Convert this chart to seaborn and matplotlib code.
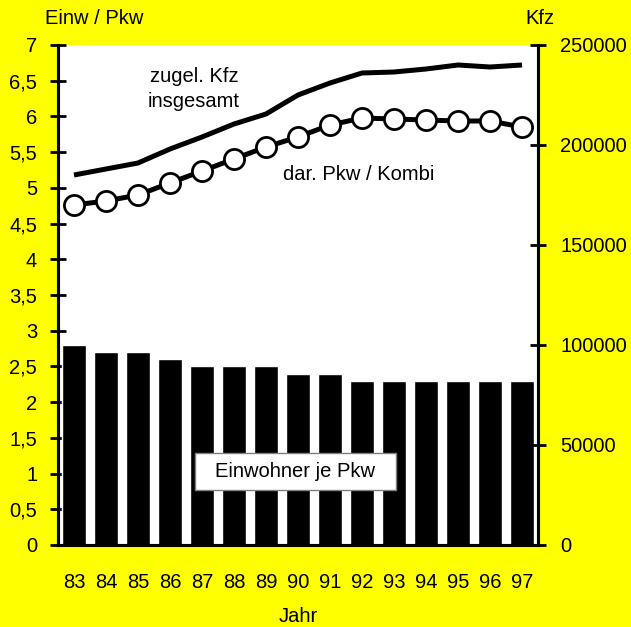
import numpy as np
import pandas as pd
import matplotlib
matplotlib.use("Agg")
import matplotlib.pyplot as plt
from matplotlib.patches import Rectangle
import seaborn as sns

# Data
years = ["83", "84", "85", "86", "87", "88", "89", "90", "91", "92", "93", "94", "95", "96", "97"]
einw_je_pkw = [2.8, 2.7, 2.7, 2.6, 2.5, 2.5, 2.5, 2.4, 2.4, 2.3, 2.3, 2.3, 2.3, 2.3, 2.3]
kfz_gesamt = [185000, 188000, 191000, 198000, 204000, 210500, 215500, 225000, 231000,
              236000, 236500, 238000, 240000, 239000, 240000]
pkw_kombi = [170000, 172000, 175000, 181000, 187000, 193000, 199000, 204000, 210000,
             213500, 213000, 212500, 212000, 212000, 209000]
left_ticks = [0, 0.5, 1, 1.5, 2, 2.5, 3, 3.5, 4, 4.5, 5, 5.5, 6, 6.5, 7]
right_ticks = [0, 50000, 100000, 150000, 200000, 250000]

sns.set_theme(style="white")
plt.rcParams["font.family"] = ["Liberation Sans", "DejaVu Sans"]
plt.rcParams["text.color"] = "black"
plt.rcParams["xtick.color"] = "black"
plt.rcParams["ytick.color"] = "black"

yellow = "#FFFF00"
fs = 14.5
df = pd.DataFrame({"Jahr": years, "Einw": einw_je_pkw, "Kfz": kfz_gesamt, "Pkw": pkw_kombi})
df["pos"] = np.arange(len(df))

fig = plt.figure(figsize=(6.31, 6.27), dpi=100, facecolor=yellow)
ax = fig.add_axes([58 / 631, 82 / 627, 480 / 631, 500 / 627])
ax.set_facecolor("white")

sns.barplot(data=df, x="Jahr", y="Einw", color="black", saturation=1, width=0.73,
            ax=ax, zorder=2)
ax.set_xlim(-0.5, len(years) - 0.5)
ax.set_ylim(0, 7)
ax.set_yticks(left_ticks)
ax.set_yticklabels([f"{t:g}".replace(".", ",") for t in left_ticks])

# category boundaries carry the tick marks, labels sit at bar centres
ax.set_xticks(np.arange(len(years) + 1) - 0.5)
ax.set_xticklabels([])
ax.set_xticks(np.arange(len(years)), minor=True)
ax.set_xticklabels(years, minor=True)
ax.tick_params(axis="x", which="major", direction="inout", length=12, width=2, color="black")
ax.tick_params(axis="x", which="minor", length=0, pad=20, labelsize=fs, labelcolor="black")
ax.tick_params(axis="y", direction="inout", length=12, width=2, color="black",
               labelsize=fs, pad=9, left=True, labelcolor="black")
ax.set_xlabel("")
ax.set_ylabel("")

ax2 = ax.twinx()
sns.lineplot(data=df, x="pos", y="Kfz", color="black", linewidth=3.6, ax=ax2,
             solid_capstyle="butt")
sns.lineplot(data=df, x="pos", y="Pkw", color="black", linewidth=3.6, ax=ax2,
             marker="o", markersize=14.5, markerfacecolor="white",
             markeredgecolor="black", markeredgewidth=2)
ax2.set_ylim(0, 250000)
ax2.set_yticks(right_ticks)
ax2.set_yticklabels([str(t) for t in right_ticks])
ax2.tick_params(axis="y", direction="inout", length=12, width=2, color="black",
                labelsize=fs, pad=10, right=True, labelcolor="black")
ax2.set_xlim(-0.5, len(years) - 0.5)
ax2.set_xlabel("")
ax2.set_ylabel("")

for a in (ax, ax2):
    for side in ("left", "right", "bottom"):
        a.spines[side].set_color("black")
        a.spines[side].set_linewidth(2.2)
    a.spines["top"].set_visible(False)

ax2.text(3.75, 228000, "zugel. Kfz\ninsgesamt", ha="center", va="center",
         fontsize=fs, linespacing=1.45)
ax2.text(8.9, 185000, "dar. Pkw / Kombi", ha="center", va="center", fontsize=fs)

# label box for the bars
ax.add_patch(Rectangle((3.78, 0.77), 6.28, 0.52, facecolor="white", edgecolor="#808080",
                       linewidth=1, zorder=5))
ax.text(6.92, 1.03, "Einwohner je Pkw", ha="center", va="center", fontsize=fs, zorder=6)

fig.text(45 / 631, 1 - 19 / 627, "Einw / Pkw", ha="left", va="center", fontsize=fs)
fig.text(540 / 631, 1 - 19 / 627, "Kfz", ha="center", va="center", fontsize=fs)
fig.text(298 / 631, 1 - 617 / 627, "Jahr", ha="center", va="center", fontsize=fs)

fig.savefig("out.png", dpi=100, facecolor=yellow)
